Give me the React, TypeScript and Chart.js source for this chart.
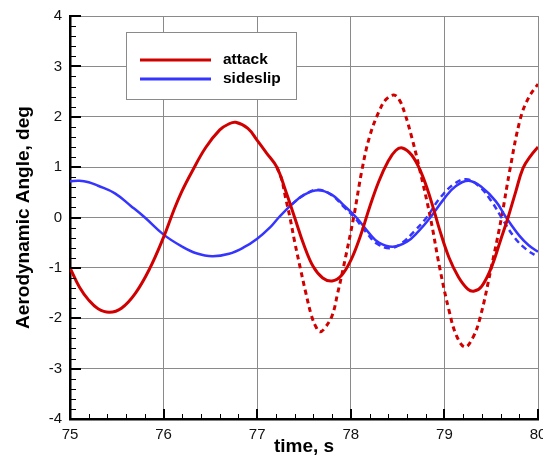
import React, { useEffect, useRef } from "react";
import { Chart, registerables } from "chart.js";

Chart.register(...registerables);

// ---- Data ----
const attackTime = [75.0, 75.1, 75.2, 75.3, 75.42, 75.55, 75.7, 75.85, 76.0, 76.1, 76.19, 76.3, 76.45, 76.6, 76.7, 76.77, 76.9, 77.0, 77.1, 77.21, 77.3, 77.4, 77.5, 77.6, 77.7, 77.8, 77.9, 78.0, 78.1, 78.2, 78.3, 78.4, 78.48, 78.55, 78.65, 78.75, 78.85, 78.95, 79.05, 79.15, 79.25, 79.32, 79.4, 79.5, 79.6, 79.68, 79.76, 79.84, 79.92, 80.0];
const attackValue = [-1.0, -1.38, -1.64, -1.81, -1.88, -1.8, -1.5, -1.02, -0.39, 0.1, 0.5, 0.9, 1.39, 1.74, 1.86, 1.89, 1.77, 1.53, 1.28, 1.0, 0.55, 0.0, -0.55, -0.98, -1.2, -1.26, -1.15, -0.85, -0.38, 0.2, 0.72, 1.12, 1.33, 1.38, 1.24, 0.9, 0.38, -0.25, -0.8, -1.18, -1.42, -1.46, -1.36, -1.0, -0.45, 0.0, 0.5, 0.98, 1.22, 1.4];

const sideslipTime = [75.0, 75.1, 75.2, 75.3, 75.48, 75.65, 75.8, 76.0, 76.2, 76.35, 76.52, 76.7, 76.85, 77.0, 77.14, 77.23, 77.37, 77.5, 77.65, 77.8, 77.92, 78.06, 78.2, 78.3, 78.45, 78.6, 78.72, 78.85, 79.0, 79.12, 79.26, 79.4, 79.55, 79.66, 79.8, 79.9, 80.0];
const sideslipValue = [0.72, 0.73, 0.7, 0.63, 0.48, 0.23, 0.0, -0.34, -0.58, -0.71, -0.77, -0.72, -0.6, -0.42, -0.19, 0.0, 0.26, 0.45, 0.54, 0.45, 0.25, 0.0, -0.32, -0.5, -0.58, -0.48, -0.28, 0.0, 0.38, 0.62, 0.73, 0.6, 0.32, 0.0, -0.36, -0.55, -0.68];

const attackAltTime = [77.21, 77.26, 77.3, 77.35, 77.4, 77.46, 77.52, 77.58, 77.63, 77.67, 77.72, 77.8, 77.86, 77.92, 78.03, 78.12, 78.2, 78.3, 78.38, 78.46, 78.52, 78.58, 78.65, 78.73, 78.85, 78.95, 79.05, 79.13, 79.22, 79.3, 79.38, 79.5, 79.61, 79.7, 79.81, 79.9, 80.0];
const attackAltValue = [1.0, 0.77, 0.42, 0.0, -0.48, -1.0, -1.5, -1.95, -2.18, -2.27, -2.2, -1.95, -1.5, -1.0, 0.0, 0.95, 1.6, 2.1, 2.35, 2.43, 2.33, 2.05, 1.6, 1.0, 0.0, -1.0, -1.85, -2.35, -2.57, -2.4, -2.0, -1.0, 0.0, 0.95, 1.95, 2.38, 2.65];

const sideslipAltTime = [77.37, 77.5, 77.65, 77.8, 77.92, 78.04, 78.18, 78.28, 78.42, 78.55, 78.68, 78.81, 78.95, 79.1, 79.23, 79.37, 79.5, 79.61, 79.75, 79.88, 80.0];
const sideslipAltValue = [0.26, 0.45, 0.55, 0.44, 0.22, 0.0, -0.33, -0.52, -0.61, -0.5, -0.27, 0.0, 0.38, 0.66, 0.76, 0.62, 0.33, 0.0, -0.4, -0.64, -0.78];

const seriesLabels = ["attack", "sideslip"];
const xTitle = "time, s";
const yTitle = "Aerodynamic Angle, deg";
const xRange = [75, 80];
const yRange = [-4, 4];

const RED = "#d10000";
const BLUE = "#3535ff";
const FONT = "'Liberation Sans', Arial, sans-serif";

const toPoints = (t: number[], v: number[]) => t.map((x, i) => ({ x, y: v[i] }));

const boxLegend = {
  id: "boxLegend",
  afterDatasetsDraw(chart: any) {
    const { ctx, chartArea } = chart;
    const x0 = chartArea.left + 56;
    const y0 = chartArea.top + 16;
    const w = 170;
    const h = 67;
    ctx.save();
    ctx.fillStyle = "#ffffff";
    ctx.fillRect(x0, y0, w, h);
    ctx.strokeStyle = "#8a8a8a";
    ctx.lineWidth = 1;
    ctx.strokeRect(x0 + 0.5, y0 + 0.5, w, h);
    const items = chart.data.datasets.slice(0, 2);
    items.forEach((ds: any, i: number) => {
      const ly = y0 + 28 + i * 19;
      ctx.strokeStyle = ds.borderColor;
      ctx.lineWidth = 3;
      ctx.setLineDash([]);
      ctx.beginPath();
      ctx.moveTo(x0 + 14, ly);
      ctx.lineTo(x0 + 85, ly);
      ctx.stroke();
      ctx.fillStyle = "#000";
      ctx.font = `bold 15.5px ${FONT}`;
      ctx.textBaseline = "middle";
      ctx.textAlign = "left";
      ctx.fillText(ds.label, x0 + 97, ly);
    });
    ctx.restore();
  },
};

const innerTicks = {
  id: "innerTicks",
  afterDraw(chart: any) {
    const { ctx, chartArea, scales } = chart;
    const { left, bottom } = chartArea;
    const xs = scales.x;
    const ys = scales.y;
    ctx.save();
    ctx.strokeStyle = "#000";
    const nx = Math.round((xs.max - xs.min) / 0.2);
    for (let i = 0; i <= nx; i++) {
      const v = xs.min + i * 0.2;
      const px = Math.round(xs.getPixelForValue(v));
      const major = i % 5 === 0;
      ctx.lineWidth = major ? 2 : 1;
      ctx.beginPath();
      ctx.moveTo(px + (major ? 0 : 0.5), bottom);
      ctx.lineTo(px + (major ? 0 : 0.5), bottom - (major ? 10 : 5));
      ctx.stroke();
    }
    const ny = Math.round((ys.max - ys.min) / 0.2);
    for (let i = 0; i <= ny; i++) {
      const v = ys.min + i * 0.2;
      const py = Math.round(ys.getPixelForValue(v));
      const major = i % 5 === 0;
      ctx.lineWidth = major ? 2 : 1;
      ctx.beginPath();
      ctx.moveTo(left, py + (major ? 0 : 0.5));
      ctx.lineTo(left + (major ? 11 : 6), py + (major ? 0 : 0.5));
      ctx.stroke();
    }
    ctx.restore();
  },
};

export default function App() {
  const ref = useRef<HTMLCanvasElement | null>(null);

  useEffect(() => {
    if (!ref.current) return;
    const common = { pointRadius: 0, tension: 0.4, fill: false };
    const chart = new Chart(ref.current, {
      type: "line",
      data: {
        datasets: [
          {
            label: seriesLabels[0],
            data: toPoints(attackTime, attackValue),
            borderColor: RED,
            borderWidth: 3,
            ...common,
          },
          {
            label: seriesLabels[1],
            data: toPoints(sideslipTime, sideslipValue),
            borderColor: BLUE,
            borderWidth: 2.5,
            ...common,
          },
          {
            label: seriesLabels[0] + " (alt)",
            data: toPoints(attackAltTime, attackAltValue),
            borderColor: RED,
            borderWidth: 3,
            borderDash: [5, 4],
            ...common,
          },
          {
            label: seriesLabels[1] + " (alt)",
            data: toPoints(sideslipAltTime, sideslipAltValue),
            borderColor: BLUE,
            borderWidth: 2.5,
            borderDash: [6, 4],
            ...common,
          },
        ],
      },
      options: {
        animation: false,
        responsive: false,
        events: [],
        layout: { padding: { top: 16, right: 5, left: 0, bottom: 0 } },
        plugins: {
          legend: { display: false },
          tooltip: { enabled: false },
        },
        scales: {
          x: {
            type: "linear",
            min: xRange[0],
            max: xRange[1],
            ticks: {
              stepSize: 1,
              color: "#111",
              padding: 7,
              maxRotation: 0,
              font: { family: FONT, size: 15 },
            },
            grid: { color: "#8a8a8a", lineWidth: 1, drawTicks: false },
            border: { color: "#000", width: 2.5 },
            title: {
              display: true,
              text: xTitle,
              color: "#000",
              font: { family: FONT, size: 19, weight: "bold" },
              padding: { top: 0, bottom: 6 },
            },
            afterFit(scale: any) {
              scale.height = 45;
              scale.paddingLeft = 0;
              scale.paddingRight = 0;
            },
          },
          y: {
            type: "linear",
            min: yRange[0],
            max: yRange[1],
            ticks: {
              stepSize: 1,
              color: "#111",
              padding: 8,
              font: { family: FONT, size: 15 },
            },
            grid: { color: "#8a8a8a", lineWidth: 1, drawTicks: false },
            border: { color: "#000", width: 2.5 },
            title: {
              display: true,
              text: yTitle,
              color: "#000",
              font: { family: FONT, size: 19, weight: "bold" },
              padding: { top: 12, bottom: 0 },
            },
            afterFit(scale: any) {
              scale.width = 70;
              scale.paddingTop = 0;
              scale.paddingBottom = 0;
            },
          },
        },
      },
      plugins: [boxLegend, innerTicks],
    } as any);
    return () => chart.destroy();
  }, []);

  return (
    <div style={{ position: "fixed", left: 0, top: 0, width: 543, height: 464, background: "#fff" }}>
      <canvas ref={ref} width={543} height={464} />
    </div>
  );
}
